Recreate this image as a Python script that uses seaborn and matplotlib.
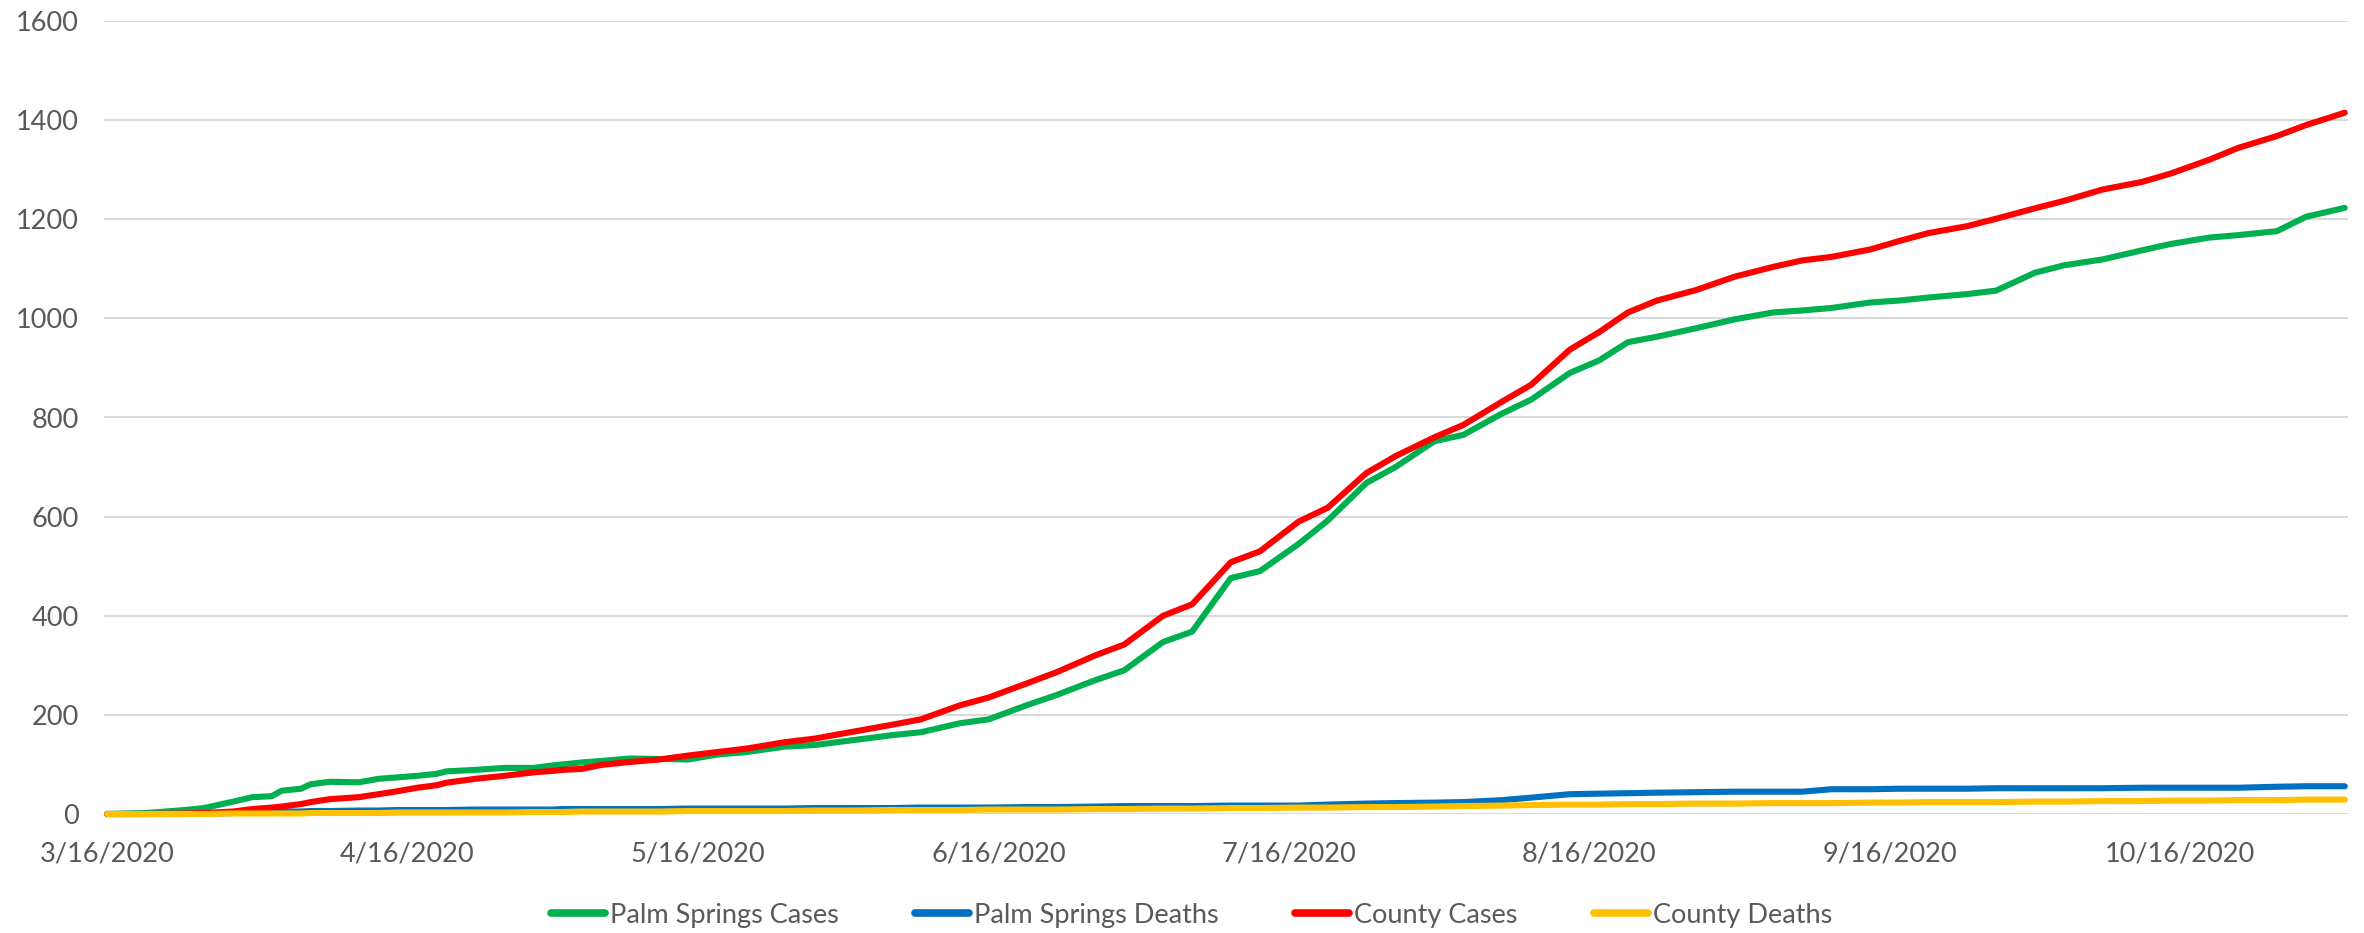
import matplotlib
matplotlib.use("Agg")
import matplotlib.pyplot as plt
import pandas as pd
import seaborn as sns

# ---------------- data ----------------
start_date = "2020-03-16"
day_offsets = [0, 4, 8, 10, 13, 15, 17, 18, 20, 21, 23, 26, 28, 30, 32, 34, 35, 38, 41, 44,
               46, 47, 49, 51, 54, 57, 60, 63, 66, 70, 73, 77, 81, 84, 88, 91, 95, 98, 102, 105,
               109, 112, 116, 119, 123, 126, 130, 133, 137, 140, 144, 147, 151, 154, 157, 160,
               164, 168, 172, 175, 178, 182, 185, 188, 192, 195, 199, 202, 206, 210, 213, 217,
               220, 224, 227, 231]

ps_cases = [0, 2, 8, 12, 25, 34, 36, 47, 51, 60, 65, 64, 71, 74, 77, 81, 86, 89, 93, 93,
            98, 100, 104, 107, 112, 111, 110, 120, 125, 136, 139, 149, 159, 165, 183, 191, 220, 240, 270, 290,
            347, 368, 476, 490, 545, 592, 668, 700, 752, 765, 808, 836, 890, 915, 952, 963,
            980, 998, 1012, 1016, 1021, 1032, 1036, 1042, 1049, 1056, 1092, 1107, 1119, 1137, 1150, 1163,
            1168, 1176, 1205, 1223]

ps_deaths = [0, 0, 0, 1, 2, 3, 4, 5, 5, 6, 6, 7, 7, 8, 8, 8, 8, 9, 9, 9,
             9, 10, 10, 10, 10, 10, 11, 11, 11, 11, 12, 12, 12, 13, 13, 13, 14, 14, 15, 16,
             16, 16, 17, 17, 17, 19, 21, 22, 23, 24, 28, 33, 40, 41, 42, 43,
             44, 45, 45, 45, 50, 50, 51, 51, 51, 52, 52, 52, 52, 53, 53, 53,
             53, 55, 56, 56]

county_cases = [0, 0, 1, 2, 5, 10, 13, 15, 20, 24, 30, 34, 40, 46, 53, 58, 63, 71, 77, 84,
                87, 89, 91, 99, 105, 110, 118, 125, 132, 145, 152, 166, 180, 191, 219, 235, 264, 286, 320, 342,
                400, 423, 508, 530, 590, 618, 688, 722, 760, 785, 832, 866, 937, 972, 1012, 1036,
                1057, 1084, 1104, 1117, 1124, 1139, 1156, 1172, 1186, 1201, 1222, 1237, 1260, 1275, 1292, 1320,
                1344, 1368, 1390, 1415]

county_deaths = [0, 0, 0, 0, 1, 1, 1, 1, 1, 2, 2, 2, 2, 3, 3, 3, 3, 3, 3, 4,
                 4, 4, 5, 5, 5, 5, 6, 6, 6, 6, 7, 7, 8, 8, 8, 9, 9, 9, 10, 10,
                 11, 11, 12, 12, 13, 13, 14, 14, 15, 16, 17, 18, 19, 19, 20, 20,
                 21, 21, 22, 22, 22, 23, 23, 24, 24, 24, 25, 25, 26, 26, 27, 27,
                 28, 28, 29, 29]

series_names = ["Palm Springs Cases", "Palm Springs Deaths", "County Cases", "County Deaths"]
series_colors = ["#00B050", "#0070C0", "#FF0000", "#FFC000"]

tick_dates = ["2020-03-16", "2020-04-16", "2020-05-16", "2020-06-16",
              "2020-07-16", "2020-08-16", "2020-09-16", "2020-10-16"]
tick_labels = ["3/16/2020", "4/16/2020", "5/16/2020", "6/16/2020",
               "7/16/2020", "8/16/2020", "9/16/2020", "10/16/2020"]
y_ticks = [0, 200, 400, 600, 800, 1000, 1200, 1400, 1600]

# ---------------- build table ----------------
dates = pd.Timestamp(start_date) + pd.to_timedelta(day_offsets, unit="D")
wide = pd.DataFrame({"date": dates,
                     series_names[0]: ps_cases,
                     series_names[1]: ps_deaths,
                     series_names[2]: county_cases,
                     series_names[3]: county_deaths})
df = wide.melt(id_vars="date", var_name="series", value_name="value")

# ---------------- style ----------------
sns.set_theme(style="white")
plt.rcParams["font.family"] = ["Lato", "DejaVu Sans"]
text_color = "#595959"

fig = plt.figure(figsize=(23.64, 9.33), dpi=100)
L, R, B, T = 104, 2348, 814, 21
ax = fig.add_axes([L / 2364, 1 - B / 933, (R - L) / 2364, (B - T) / 933])

sns.lineplot(data=df, x="date", y="value", hue="series", hue_order=series_names,
             palette=series_colors, linewidth=4.4, estimator=None, sort=False,
             legend=False, ax=ax)
for ln in ax.get_lines():
    ln.set_solid_capstyle("round")
    ln.set_solid_joinstyle("round")
    ln.set_clip_on(False)

pad = pd.Timedelta(hours=8)
ax.set_xlim(dates[0] - pad, dates[-1] + pad)
ax.set_ylim(0, 1600)
ax.set_yticks(y_ticks)
ax.set_yticklabels([str(v) for v in y_ticks])
ax.set_xticks(pd.to_datetime(tick_dates))
ax.set_xticklabels(tick_labels)

ax.grid(axis="y", color="#D9D9D9", linewidth=1.5)
ax.grid(axis="x", visible=False)
ax.set_axisbelow(True)
for s in ax.spines.values():
    s.set_visible(False)
ax.set_xlabel("")
ax.set_ylabel("")
ax.tick_params(axis="y", length=0, pad=18, labelsize=19.5, labelcolor=text_color)
ax.tick_params(axis="x", length=0, pad=20, labelsize=19.5, labelcolor=text_color)

handles = [plt.Line2D([0], [0], color=c, linewidth=5.5, solid_capstyle="round") for c in series_colors]
fig.legend(handles, series_names, loc="center", bbox_to_anchor=(0.504, 1 - 915 / 933),
           ncol=4, frameon=False, fontsize=19.5, labelcolor=text_color,
           handlelength=2.0, handletextpad=0.2, columnspacing=2.8)

fig.savefig("out.png", dpi=100)
